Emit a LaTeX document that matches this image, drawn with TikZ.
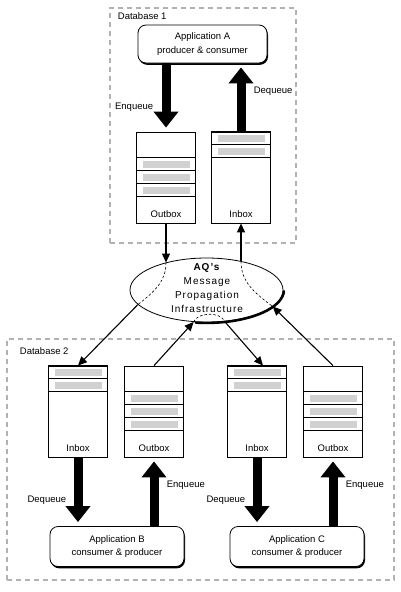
\documentclass[tikz,border=0pt]{standalone}
\usepackage{fontspec}
\setmainfont{Liberation Sans}
\usetikzlibrary{arrows.meta,shapes.geometric,shadows}

\begin{document}
\begin{tikzpicture}[x=1pt,y=-1pt,font=\fontsize{9.5}{13.5}\selectfont,
  db/.style={draw=black!30,dash pattern=on 5pt off 4pt,line width=1.2pt},
  app/.style={draw,fill=white,line width=0.8pt,rounded corners=8pt,align=center,
    drop shadow={shadow xshift=1pt,shadow yshift=-1.8pt,fill=black,opacity=1}},
  queue/.style={draw,line width=0.8pt,minimum width=59pt,minimum height=91pt},
  slot/.style={fill=black!18},
  big/.style={line width=9pt,-{Triangle[length=16pt,width=24pt]},shorten >=4pt},
  flow/.style={line width=1.1pt,-{Triangle[length=9pt,width=8pt]}},
  hidden/.style={line width=0.6pt,dash pattern=on 2.5pt off 2pt}]
\useasboundingbox (0,0) rectangle (400,592);
\node (db1) [db,minimum width=186pt,minimum height=235pt,
  label={[anchor=north west,xshift=5pt,yshift=-2pt]north west:Database 1}] at (203,125.5) {};
\node (db2) [db,minimum width=387pt,minimum height=241pt,
  label={[anchor=north west,xshift=10pt,yshift=-6pt]north west:Database 2}] at (200.5,459.5) {};
\node (appA) [app,minimum width=129pt,minimum height=38pt] at (202.5,44) {Application A\\producer \& consumer};
\node (appB) [app,minimum width=134pt,minimum height=40pt] at (117,546.5) {Application B\\consumer \& producer};
\node (appC) [app,minimum width=134pt,minimum height=40pt] at (297,546.5) {Application C\\consumer \& producer};
\node (outA) [queue,label={[anchor=south,yshift=2pt]south:Outbox}] at (166,177.5) {};
\node (inA) [queue,label={[anchor=south,yshift=2pt]south:Inbox}] at (241,177.5) {};
\node (inB) [queue,label={[anchor=south,yshift=2pt]south:Inbox}] at (78,411.5) {};
\node (outB) [queue,label={[anchor=south,yshift=2pt]south:Outbox}] at (154,411.5) {};
\node (inC) [queue,label={[anchor=south,yshift=2pt]south:Inbox}] at (257,411.5) {};
\node (outC) [queue,label={[anchor=south,yshift=2pt]south:Outbox}] at (333,411.5) {};
\foreach \q/\h in {outA/26,outA/39,outA/52,inA/0,inA/13,inB/0,inB/13,outB/26,outB/39,outB/52,
  inC/0,inC/13,outC/26,outC/39,outC/52} {
  \fill [slot] ([shift={(7,\h+3)}]\q.north west) rectangle ([shift={(-6,\h+10)}]\q.north east);
  \draw [line width=0.8pt] ([shift={(0,\h)}]\q.north west) -- ([shift={(0,\h)}]\q.north east)
    ([shift={(0,\h+13)}]\q.north west) -- ([shift={(0,\h+13)}]\q.north east);
}
\node (aq) [ellipse,draw,line width=0.8pt,minimum width=153pt,minimum height=64pt,inner sep=0pt] at (206.5,290) {};
\draw [line width=2.4pt,line cap=round] (aq.center) ++(98:77.5 and 33)
  arc [start angle=98,end angle=2,x radius=77.5,y radius=33];
\node (aqtext) [align=center,font=\fontsize{10}{14}\selectfont\addfontfeature{LetterSpace=10}] at (207,288)
  {\textbf{AQ's}\\Message\\Propagation\\Infrastructure};
\draw [big] (outA.north |- appA.south) -- node [left=5pt,pos=.64] {Enqueue} (outA.north);
\draw [big] (inA.north) -- node [right=5pt,pos=.59] {Dequeue} (inA.north |- appA.south);
\draw [big] (inB.south) -- node [left=4pt,pos=.62] {Dequeue} (inB.south |- appB.north);
\draw [big] (outB.south |- appB.north) -- node [right=5pt,pos=.6] {Enqueue} (outB.south);
\draw [big] (inC.south) -- node [left=4pt,pos=.62] {Dequeue} (inC.south |- appC.north);
\draw [big] (outC.south |- appC.north) -- node [right=5pt,pos=.6] {Enqueue} (outC.south);
\draw [flow] (outA.south) -- (outA.south |- aq.146);
\draw [flow] (inA.south |- aq.40) -- (inA.south);
\draw [flow] (aq.192) -- (inB.north);
\draw [flow] (outB.north) -- (aq.-112);
\draw [flow] (aq.-60) -- ([xshift=6pt]inC.north);
\draw [flow] (outC.north) -- (aq.-14);
\draw [hidden] (outA.south |- aq.146) .. controls +(0,18) and +(18,-14) .. (aq.192);
\draw [hidden] (inA.south |- aq.40) .. controls +(0,20) and +(-20,-15) .. (aq.-14);
\draw [hidden] (aq.-112) .. controls +(4,-10) and +(-4,-10) .. (aq.-60);
\end{tikzpicture}
\end{document}
